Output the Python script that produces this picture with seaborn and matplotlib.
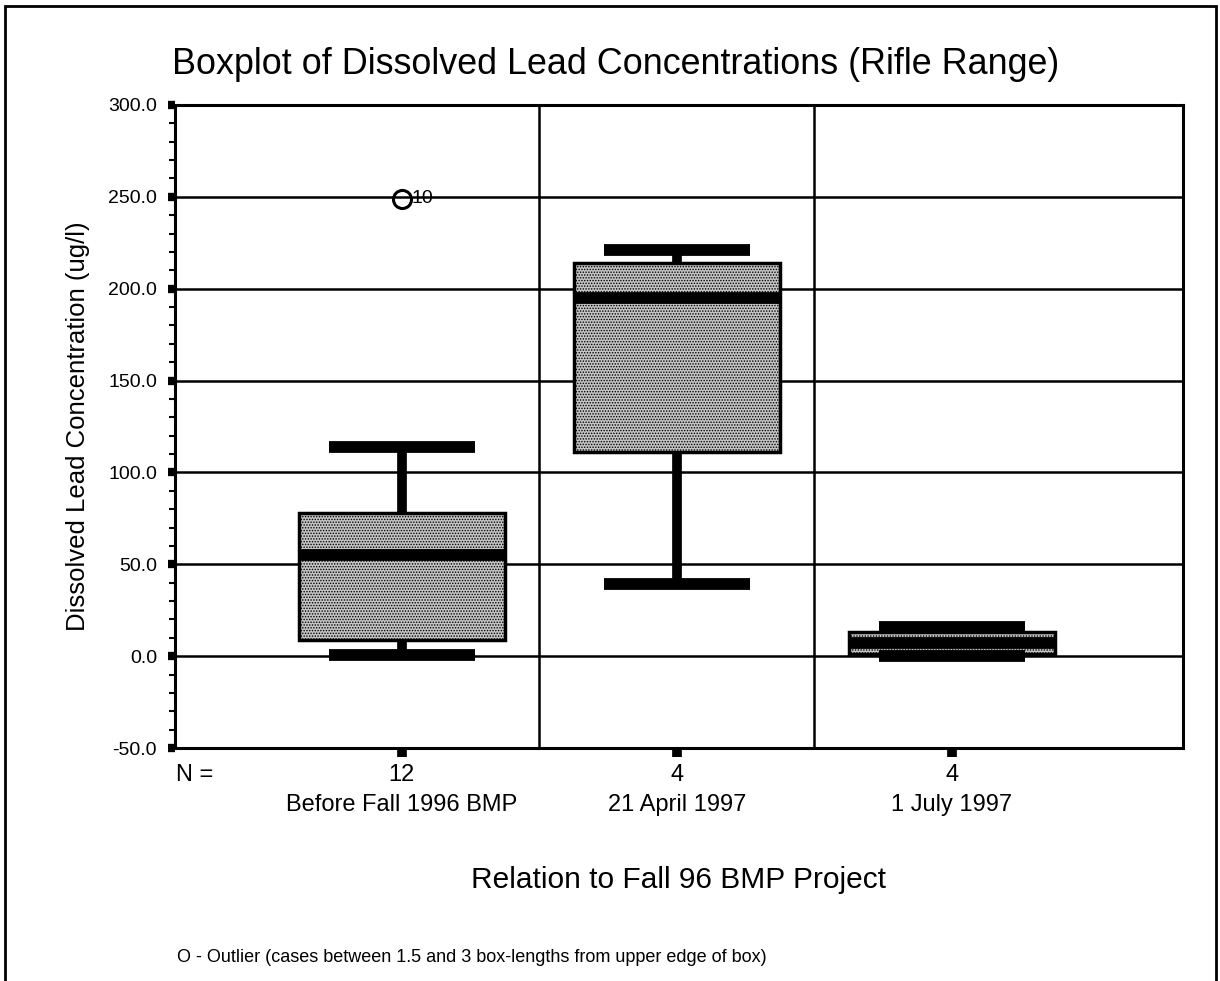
import matplotlib.pyplot as plt
from matplotlib.patches import Rectangle
from matplotlib.ticker import MultipleLocator, FormatStrFormatter
import pandas as pd
import seaborn as sns

categories = ["Before Fall 1996 BMP", "21 April 1997", "1 July 1997"]
n_cases = [12, 4, 4]
# values: whisker ends, hinges, median (and the outlier)
before_bmp = [0.5, 0.5, 9.0, 9.0, 55.0, 78.0, 78.0, 114.0, 249.0]
april_1997 = [39.0, 111.0, 195.0, 214.0, 221.0]
july_1997 = [0.0, 1.0, 7.0, 13.0, 16.0]
outlier_value = 249.0
outlier_case = "10"

groups = [before_bmp, april_1997, july_1997]
df = pd.concat(
    [pd.DataFrame({"period": cat, "lead": vals}) for cat, vals in zip(categories, groups)],
    ignore_index=True,
)

sns.set_theme(style="white")
plt.rcParams["font.family"] = ["Liberation Sans", "DejaVu Sans"]
plt.rcParams["hatch.linewidth"] = 0.7
for key in ["text.color", "axes.labelcolor", "xtick.color", "ytick.color"]:
    plt.rcParams[key] = "black"

fig = plt.figure(figsize=(12.2, 9.81), dpi=100)
ax = fig.add_axes([0.1434, 0.2375, 0.8263, 0.6555])

sns.boxplot(
    data=df, x="period", y="lead", order=categories, ax=ax,
    width=0.75, color="#c4c4c4", saturation=1, linecolor="black", linewidth=2.5,
    capwidths=0.53,
    boxprops=dict(hatch="......"),
    medianprops=dict(linewidth=8.5, solid_capstyle="butt"),
    whiskerprops=dict(linewidth=7, solid_capstyle="butt"),
    capprops=dict(linewidth=8.5, solid_capstyle="butt"),
    flierprops=dict(marker="o", markersize=13, markerfacecolor="none",
                    markeredgecolor="black", markeredgewidth=2.2),
)

ax.annotate(outlier_case, xy=(0, outlier_value), xytext=(7, 0),
            textcoords="offset points", ha="left", va="center", fontsize=14)

# separators between the groups
for i in range(len(categories) - 1):
    ax.axvline(i + 0.5, color="black", linewidth=1.8, zorder=0.5)

ax.set_ylim(-50, 300)
ax.set_xlim(-0.825, len(categories) - 1 + 0.84)
ax.yaxis.set_major_locator(MultipleLocator(50))
ax.yaxis.set_minor_locator(MultipleLocator(10))
ax.yaxis.set_major_formatter(FormatStrFormatter("%.1f"))
ax.yaxis.grid(True, color="black", linewidth=1.8)
ax.xaxis.grid(False)
ax.set_axisbelow(True)

for sp in ax.spines.values():
    sp.set_visible(True)
    sp.set_color("black")
    sp.set_linewidth(2.2)

ax.tick_params(axis="y", which="major", direction="out", length=5, width=6,
               labelsize=14, pad=8, left=True)
ax.tick_params(axis="y", which="minor", direction="out", length=4, width=1.5, left=True)
ax.tick_params(axis="x", direction="out", length=6.5, width=7, labelsize=17,
               pad=5, bottom=True)

ax.set_xticks(range(len(categories)))
ax.set_xticklabels([f"{n}\n{c}" for n, c in zip(n_cases, categories)], linespacing=1.45)
ax.annotate("N =", xy=(0, 0), xycoords="axes fraction", xytext=(1, -11.5),
            textcoords="offset points", ha="left", va="top", fontsize=17)

ax.set_xlabel("Relation to Fall 96 BMP Project", fontsize=21.5, labelpad=36)
ax.set_ylabel("Dissolved Lead Concentration (ug/l)", fontsize=18.5, labelpad=13)

fig.text(616 / 1220, 1 - 65 / 981, "Boxplot of Dissolved Lead Concentrations (Rifle Range)",
         ha="center", va="center", fontsize=25.8)
fig.text(177 / 1220, 1 - 957 / 981,
         "O - Outlier (cases between 1.5 and 3 box-lengths from upper edge of box)",
         ha="left", va="center", fontsize=13)

fig.add_artist(Rectangle((0.004, -0.05), 0.9927, 1.044, transform=fig.transFigure,
                         fill=False, linewidth=2, edgecolor="black"))

fig.savefig("out.png", dpi=100)
